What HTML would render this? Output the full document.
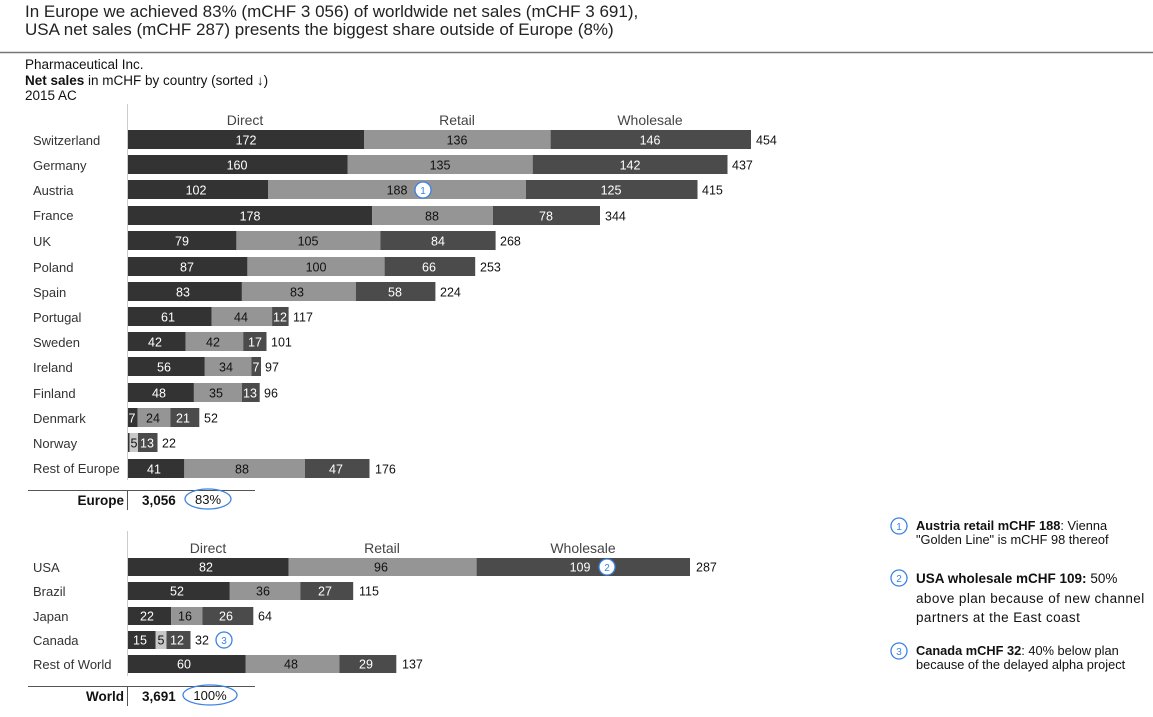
<!DOCTYPE html>
<html><head><meta charset="utf-8"><style>
body{margin:0;background:#fff;width:1153px;height:717px;overflow:hidden}
svg{font-family:"Liberation Sans",Arial,sans-serif;display:block}
.c{font-size:13px;fill:#333}
.w{font-size:12.5px;fill:#fff;text-anchor:middle}
.b{font-size:12.5px;fill:#111;text-anchor:middle}
.t{font-size:12.5px;fill:#111}
.h{font-size:14px;fill:#444;text-anchor:middle}
</style></head><body>
<svg width="1153" height="717" viewBox="0 0 1153 717">
<text x="25" y="17" font-size="17" fill="#222">In Europe we achieved 83% (mCHF 3 056) of worldwide net sales (mCHF 3 691),</text>
<text x="25" y="35" font-size="17" fill="#222">USA net sales (mCHF 287) presents the biggest share outside of Europe (8%)</text>
<line x1="0" y1="52.5" x2="1153" y2="52.5" stroke="#777" stroke-width="1.5"/>
<text x="25" y="69" font-size="13.5" fill="#111">Pharmaceutical Inc.</text>
<text x="25" y="85" font-size="13.5" fill="#111"><tspan font-weight="bold">Net sales</tspan> in mCHF by country (sorted ↓)</text>
<text x="25" y="100" font-size="13.5" fill="#111">2015 AC</text>
<line x1="127.5" y1="104" x2="127.5" y2="480" stroke="#ccc"/>
<text class="h" x="245" y="125">Direct</text><text class="h" x="457" y="125">Retail</text><text class="h" x="650" y="125">Wholesale</text>
<g class="bars">
<rect x="128" y="130" width="236" height="19" fill="#333"/><rect x="364" y="130" width="186.6" height="19" fill="#959595"/><rect x="550.6" y="130" width="200.4" height="19" fill="#4b4b4b"/>
<rect x="128" y="155" width="219.5" height="19" fill="#333"/><rect x="347.5" y="155" width="185.2" height="19" fill="#959595"/><rect x="532.7" y="155" width="194.8" height="19" fill="#4b4b4b"/>
<rect x="128" y="180" width="140" height="19" fill="#333"/><rect x="268" y="180" width="258" height="19" fill="#959595"/><rect x="526" y="180" width="171.5" height="19" fill="#4b4b4b"/>
<rect x="128" y="206" width="244.2" height="19" fill="#333"/><rect x="372.2" y="206" width="120.7" height="19" fill="#959595"/><rect x="492.9" y="206" width="107.1" height="19" fill="#4b4b4b"/>
<rect x="128" y="231" width="108.4" height="19" fill="#333"/><rect x="236.4" y="231" width="144" height="19" fill="#959595"/><rect x="380.4" y="231" width="115.2" height="19" fill="#4b4b4b"/>
<rect x="128" y="257" width="119.4" height="19" fill="#333"/><rect x="247.4" y="257" width="137.2" height="19" fill="#959595"/><rect x="384.6" y="257" width="90.6" height="19" fill="#4b4b4b"/>
<rect x="128" y="282" width="113.9" height="19" fill="#333"/><rect x="241.9" y="282" width="113.9" height="19" fill="#959595"/><rect x="355.8" y="282" width="79.6" height="19" fill="#4b4b4b"/>
<rect x="128" y="307" width="83.7" height="19" fill="#333"/><rect x="211.7" y="307" width="60.4" height="19" fill="#959595"/><rect x="272.1" y="307" width="16.5" height="19" fill="#4b4b4b"/>
<rect x="128" y="332" width="57.6" height="19" fill="#333"/><rect x="185.6" y="332" width="57.6" height="19" fill="#959595"/><rect x="243.2" y="332" width="23.3" height="19" fill="#4b4b4b"/>
<rect x="128" y="357" width="76.8" height="19" fill="#333"/><rect x="204.8" y="357" width="46.6" height="19" fill="#959595"/><rect x="251.4" y="357" width="9.6" height="19" fill="#4b4b4b"/>
<rect x="128" y="383" width="65.9" height="19" fill="#333"/><rect x="193.9" y="383" width="48" height="19" fill="#959595"/><rect x="241.9" y="383" width="17.8" height="19" fill="#4b4b4b"/>
<rect x="128" y="408" width="9.6" height="19" fill="#333"/><rect x="137.6" y="408" width="32.9" height="19" fill="#959595"/><rect x="170.5" y="408" width="28.8" height="19" fill="#4b4b4b"/>
<rect x="128" y="433" width="1.5" height="19" fill="#333"/><rect x="129.5" y="433" width="8.5" height="19" fill="#c8c8c8"/><rect x="138" y="433" width="19.5" height="19" fill="#4b4b4b"/>
<rect x="128" y="459" width="56.3" height="19" fill="#333"/><rect x="184.3" y="459" width="120.7" height="19" fill="#959595"/><rect x="305" y="459" width="64.5" height="19" fill="#4b4b4b"/>
</g>
<g class="c">
<text x="33" y="145">Switzerland</text><text x="33" y="170">Germany</text><text x="33" y="195">Austria</text><text x="33" y="220">France</text><text x="33" y="246">UK</text><text x="33" y="272">Poland</text><text x="33" y="297">Spain</text><text x="33" y="322">Portugal</text><text x="33" y="347">Sweden</text><text x="33" y="372">Ireland</text><text x="33" y="398">Finland</text><text x="33" y="423">Denmark</text><text x="33" y="448">Norway</text><text x="33" y="473">Rest of Europe</text>
</g>
<text class="w" x="246" y="144.5">172</text><text class="b" x="457" y="144.5">136</text><text class="w" x="650" y="144.5">146</text><text class="t" x="756" y="144.5">454</text>
<text class="w" x="237" y="169.5">160</text><text class="b" x="440" y="169.5">135</text><text class="w" x="630" y="169.5">142</text><text class="t" x="732" y="169.5">437</text>
<text class="w" x="196" y="194.5">102</text><text class="b" x="397" y="194.5">188</text><text class="w" x="611" y="194.5">125</text><text class="t" x="702" y="194.5">415</text>
<text class="w" x="250" y="220.5">178</text><text class="b" x="432" y="220.5">88</text><text class="w" x="546" y="220.5">78</text><text class="t" x="605" y="220.5">344</text>
<text class="w" x="182" y="245.5">79</text><text class="b" x="308" y="245.5">105</text><text class="w" x="438" y="245.5">84</text><text class="t" x="500" y="245.5">268</text>
<text class="w" x="187" y="271.5">87</text><text class="b" x="316" y="271.5">100</text><text class="w" x="429" y="271.5">66</text><text class="t" x="480" y="271.5">253</text>
<text class="w" x="183" y="296.5">83</text><text class="b" x="297" y="296.5">83</text><text class="w" x="395" y="296.5">58</text><text class="t" x="440" y="296.5">224</text>
<text class="w" x="168" y="321.5">61</text><text class="b" x="241" y="321.5">44</text><text class="w" x="280" y="321.5">12</text><text class="t" x="293" y="321.5">117</text>
<text class="w" x="155" y="346.5">42</text><text class="b" x="213" y="346.5">42</text><text class="w" x="255" y="346.5">17</text><text class="t" x="271" y="346.5">101</text>
<text class="w" x="164" y="371.5">56</text><text class="b" x="226" y="371.5">34</text><text class="w" x="256" y="371.5">7</text><text class="t" x="265" y="371.5">97</text>
<text class="w" x="159" y="397.5">48</text><text class="b" x="216" y="397.5">35</text><text class="w" x="250" y="397.5">13</text><text class="t" x="264" y="397.5">96</text>
<text class="w" x="132" y="422.5">7</text><text class="b" x="153" y="422.5">24</text><text class="w" x="183" y="422.5">21</text><text class="t" x="204" y="422.5">52</text>
<text class="b" x="134" y="447.5">5</text><text class="w" x="147" y="447.5">13</text><text class="t" x="162" y="447.5">22</text>
<text class="w" x="154" y="473.5">41</text><text class="b" x="242" y="473.5">88</text><text class="w" x="336" y="473.5">47</text><text class="t" x="375" y="473.5">176</text>
<circle cx="423" cy="190" r="8" fill="#fff" stroke="#3b82e6" stroke-width="1.3"/><text x="423" y="194" font-size="10" fill="#3b82e6" text-anchor="middle">1</text>
<line x1="28" y1="490.5" x2="255" y2="490.5" stroke="#555"/>
<line x1="127.5" y1="490" x2="127.5" y2="510" stroke="#555"/>
<text x="124" y="505" font-size="13.5" font-weight="bold" fill="#111" text-anchor="end">Europe</text>
<text x="142" y="505" font-size="13.5" font-weight="bold" fill="#111">3,056</text>
<ellipse cx="208" cy="499" rx="23" ry="10" fill="none" stroke="#3b82e6" stroke-width="1.3"/>
<text x="208" y="504" font-size="13" fill="#111" text-anchor="middle">83%</text>

<line x1="127.5" y1="531" x2="127.5" y2="676" stroke="#ccc"/>
<text class="h" x="208" y="553">Direct</text><text class="h" x="382" y="553">Retail</text><text class="h" x="583" y="553">Wholesale</text>
<rect x="128" y="558" width="160.6" height="18" fill="#333"/><rect x="288.6" y="558" width="188" height="18" fill="#959595"/><rect x="476.6" y="558" width="213.4" height="18" fill="#4b4b4b"/>
<rect x="128" y="582" width="101.8" height="18" fill="#333"/><rect x="229.8" y="582" width="70.5" height="18" fill="#959595"/><rect x="300.3" y="582" width="52.9" height="18" fill="#4b4b4b"/>
<rect x="128" y="607" width="43.1" height="18" fill="#333"/><rect x="171.1" y="607" width="31.3" height="18" fill="#959595"/><rect x="202.4" y="607" width="50.9" height="18" fill="#4b4b4b"/>
<rect x="128" y="631" width="27.5" height="18" fill="#333"/><rect x="155.5" y="631" width="11" height="18" fill="#c8c8c8"/><rect x="166.5" y="631" width="24" height="18" fill="#4b4b4b"/>
<rect x="128" y="655" width="117.5" height="18" fill="#333"/><rect x="245.5" y="655" width="94" height="18" fill="#959595"/><rect x="339.5" y="655" width="56.8" height="18" fill="#4b4b4b"/>
<g class="c"><text x="33" y="572">USA</text><text x="33" y="596">Brazil</text><text x="33" y="621">Japan</text><text x="33" y="645">Canada</text><text x="33" y="669">Rest of World</text></g>
<text class="w" x="206" y="571.5">82</text><text class="b" x="381" y="571.5">96</text><text class="w" x="580" y="571.5">109</text><text class="t" x="696" y="571.5">287</text>
<text class="w" x="177" y="595.5">52</text><text class="b" x="263" y="595.5">36</text><text class="w" x="325" y="595.5">27</text><text class="t" x="359" y="595.5">115</text>
<text class="w" x="147" y="620.5">22</text><text class="b" x="185" y="620.5">16</text><text class="w" x="226" y="620.5">26</text><text class="t" x="258" y="620.5">64</text>
<text class="w" x="140" y="644.5">15</text><text class="b" x="161" y="644.5">5</text><text class="w" x="177" y="644.5">12</text><text class="t" x="195" y="644.5">32</text>
<text class="w" x="184" y="668.5">60</text><text class="b" x="291" y="668.5">48</text><text class="w" x="366" y="668.5">29</text><text class="t" x="402" y="668.5">137</text>
<circle cx="607" cy="567" r="8" fill="#fff" stroke="#3b82e6" stroke-width="1.3"/><text x="607" y="571" font-size="10" fill="#3b82e6" text-anchor="middle">2</text>
<circle cx="224" cy="640" r="8" fill="#fff" stroke="#3b82e6" stroke-width="1.3"/><text x="224" y="644" font-size="10" fill="#3b82e6" text-anchor="middle">3</text>
<line x1="28" y1="686.5" x2="255" y2="686.5" stroke="#555"/>
<line x1="127.5" y1="686" x2="127.5" y2="706" stroke="#555"/>
<text x="124" y="701" font-size="13.5" font-weight="bold" fill="#111" text-anchor="end">World</text>
<text x="142" y="701" font-size="13.5" font-weight="bold" fill="#111">3,691</text>
<ellipse cx="210" cy="695" rx="27" ry="10" fill="none" stroke="#3b82e6" stroke-width="1.3"/>
<text x="210" y="700" font-size="13" fill="#111" text-anchor="middle">100%</text>

<circle cx="899" cy="526" r="8" fill="#fff" stroke="#3b82e6" stroke-width="1.3"/><text x="899" y="530" font-size="10" fill="#3b82e6" text-anchor="middle">1</text>
<text x="916" y="530" font-size="12.8" fill="#111"><tspan font-weight="bold">Austria retail mCHF 188</tspan>: Vienna</text>
<text x="916" y="544" font-size="12.8" fill="#111">"Golden Line" is mCHF 98 thereof</text>
<circle cx="899" cy="578" r="8" fill="#fff" stroke="#3b82e6" stroke-width="1.3"/><text x="899" y="582" font-size="10" fill="#3b82e6" text-anchor="middle">2</text>
<text x="916" y="583" font-size="13.5" fill="#111"><tspan font-weight="bold">USA wholesale mCHF 109:</tspan> 50%</text>
<text x="916" y="603" font-size="13.5" fill="#111" letter-spacing="0.4">above plan because of new channel</text>
<text x="916" y="622" font-size="13.5" fill="#111" letter-spacing="0.4">partners at the East coast</text>
<circle cx="899" cy="651" r="8" fill="#fff" stroke="#3b82e6" stroke-width="1.3"/><text x="899" y="655" font-size="10" fill="#3b82e6" text-anchor="middle">3</text>
<text x="916" y="655" font-size="12.8" fill="#111"><tspan font-weight="bold">Canada mCHF 32</tspan>: 40% below plan</text>
<text x="916" y="669" font-size="12.8" fill="#111">because of the delayed alpha project</text>
</svg>
</body></html>
